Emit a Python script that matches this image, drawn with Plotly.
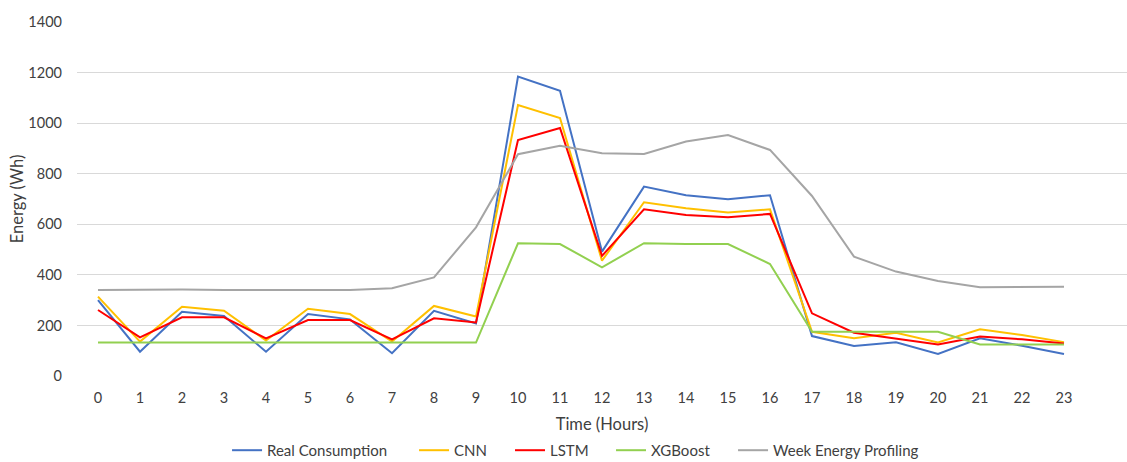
import plotly.graph_objects as go

hours = list(range(24))
tick_labels = [str(h) for h in hours]

real = [300, 96, 254, 237, 96, 245, 224, 90, 258, 208, 1184, 1128, 492, 749, 715, 699, 715, 158, 119, 133, 87, 149, 120, 87]
cnn = [314, 136, 274, 258, 140, 266, 245, 136, 277, 235, 1072, 1020, 456, 687, 663, 647, 659, 175, 149, 171, 133, 185, 162, 134]
lstm = [261, 153, 232, 232, 149, 221, 221, 145, 228, 212, 933, 981, 475, 659, 637, 628, 641, 248, 171, 149, 125, 156, 145, 129]
xgb = [132, 132, 132, 132, 132, 132, 132, 132, 132, 132, 525, 522, 430, 525, 522, 522, 443, 175, 175, 175, 175, 125, 125, 125]
week = [340, 342, 342, 340, 340, 340, 340, 347, 390, 588, 877, 911, 881, 878, 927, 953, 894, 712, 472, 413, 376, 351, 353, 353]

series = [
    ("Real Consumption", real, "#4472C4"),
    ("CNN", cnn, "#FFC000"),
    ("LSTM", lstm, "#FF0000"),
    ("XGBoost", xgb, "#92D050"),
    ("Week Energy Profiling", week, "#A5A5A5"),
]

# legend entry left positions (paper fraction of plot width)
legend_x = [0.1429, 0.3210, 0.4124, 0.5086, 0.6248]

font_family = "Lato, 'Open Sans', sans-serif"
text_color = "#404040"

fig = go.Figure()
legend_layouts = {}
for i, (name, vals, color) in enumerate(series):
    lg = "legend" if i == 0 else f"legend{i + 1}"
    fig.add_trace(go.Scatter(x=hours, y=vals, name=name, mode="lines",
                             line=dict(color=color, width=2), legend=lg))
    legend_layouts[lg] = dict(orientation="h", x=legend_x[i], xanchor="left",
                              yref="container", y=0.025, yanchor="middle",
                              bgcolor="rgba(0,0,0,0)", borderwidth=0,
                              font=dict(size=15, color=text_color, family=font_family))

fig.update_layout(
    width=1127, height=462,
    margin=dict(l=77, r=0, t=22, b=86),
    paper_bgcolor="white", plot_bgcolor="white",
    font=dict(family=font_family, size=14, color=text_color),
    showlegend=True,
    xaxis=dict(range=[-0.5, 24.5], tickmode="array", tickvals=hours, ticktext=tick_labels,
               showgrid=False, zeroline=False, showline=False, ticks="", automargin=False,
               tickfont=dict(size=14.5, color=text_color), ticklabelstandoff=11,
               title=dict(text="Time (Hours)", font=dict(size=16.5, color=text_color), standoff=14)),
    yaxis=dict(range=[0, 1400], tickmode="array", tickvals=[0, 200, 400, 600, 800, 1000, 1200, 1400],
               showgrid=True, gridcolor="#D9D9D9", gridwidth=1, zeroline=False, showline=False,
               automargin=False,
               tickfont=dict(size=14.5, color=text_color), ticklabelstandoff=14,
               title=dict(text="Energy (Wh)", font=dict(size=16.5, color=text_color), standoff=0)),
    **legend_layouts,
)

fig.write_html("out.html")
